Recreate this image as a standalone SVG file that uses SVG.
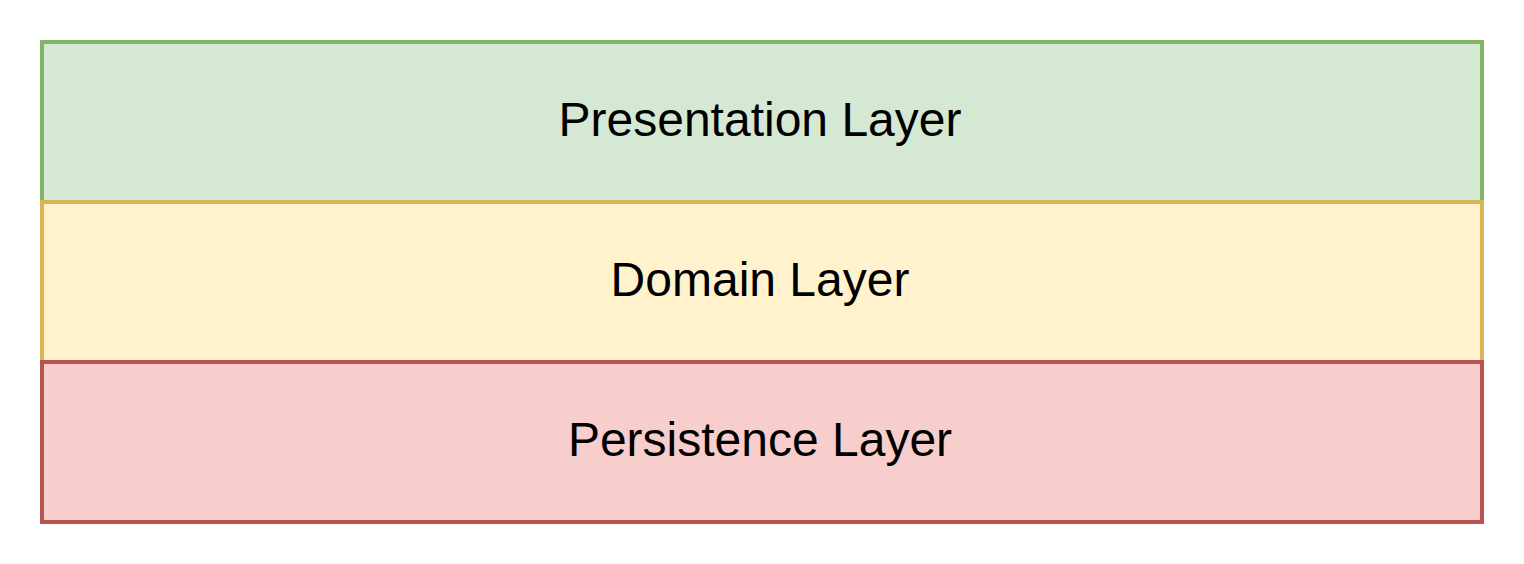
<svg xmlns="http://www.w3.org/2000/svg" width="1524" height="564" viewBox="0 0 1524 564">
<style>
.layer{stroke-width:4}
.lbl{font-family:"Liberation Sans",Arial,sans-serif;font-size:48px;fill:#000;text-anchor:middle}
</style>
<rect width="1524" height="564" fill="#ffffff"/>
<g id="presentation">
<rect class="layer" x="42" y="42" width="1440" height="160" fill="#d5e8d4" stroke="#82b366"/>
<text class="lbl" x="760" y="136">Presentation Layer</text>
</g>
<g id="domain">
<rect class="layer" x="42" y="202" width="1440" height="160" fill="#fff2cc" stroke="#d6b656"/>
<text class="lbl" x="760" y="296">Domain Layer</text>
</g>
<g id="persistence">
<rect class="layer" x="42" y="362" width="1440" height="160" fill="#f8cecc" stroke="#b85450"/>
<text class="lbl" x="760" y="456">Persistence Layer</text>
</g>
<g id="connectors"></g>
</svg>
